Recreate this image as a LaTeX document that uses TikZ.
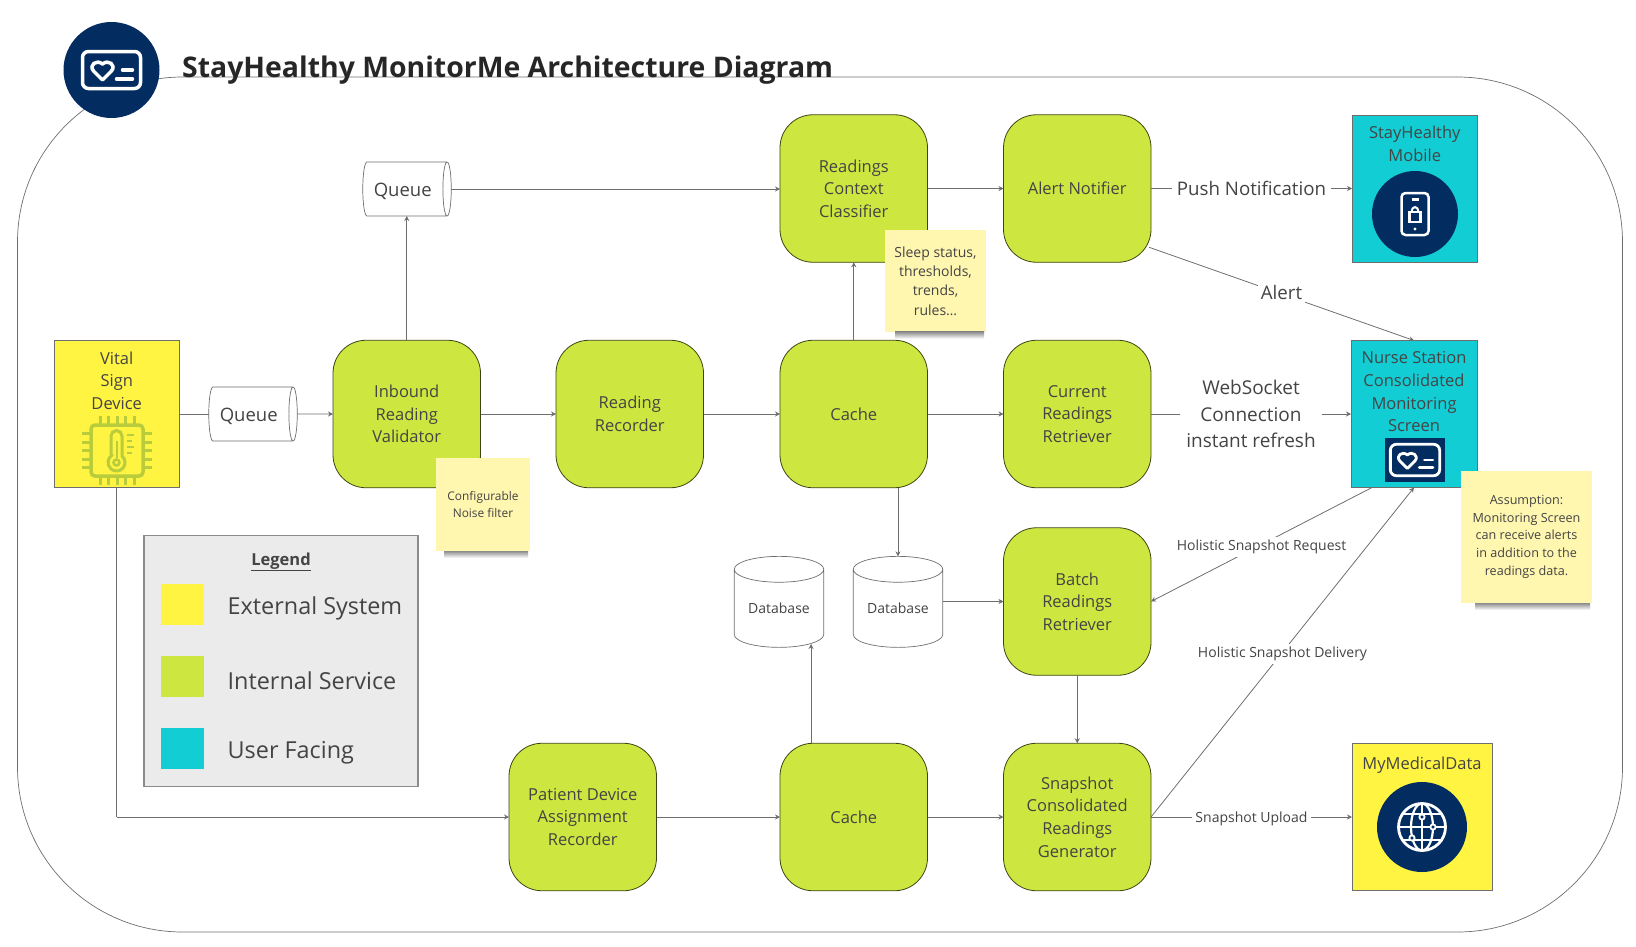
\documentclass[tikz,border=0pt]{standalone}
\usepackage{fontspec}
\setmainfont{Open Sans}
\usepackage{xcolor}
\usepackage{tikz}
\usetikzlibrary{
	arrows.meta,
	calc,
	positioning,
	shapes.geometric,
	}
\definecolor{svcgreen}{HTML}{CEE740}
\definecolor{extyellow}{HTML}{FFF441}
\definecolor{usercyan}{HTML}{12CDD4}
\definecolor{navy}{HTML}{032D60}
\definecolor{notepaper}{HTML}{FFF6B0}
\definecolor{legendgrey}{HTML}{EBEBEB}
\definecolor{chipgreen}{HTML}{B8CC3C}
\definecolor{ink}{HTML}{444444}
\definecolor{wire}{HTML}{6E6E6E}
\tikzset{
	boxfont/.style={font=\fontsize{16.5}{22.6}\selectfont, text=ink, align=center},
	service/.style={boxfont, draw=black!70!svcgreen, fill=svcgreen, line width=.8pt, rounded corners=33pt, minimum size=147.5pt, inner sep=0pt, outer sep=0pt},
	sysbox/.style={draw=wire, line width=1pt, minimum height=147pt, inner sep=0pt, outer sep=0pt},
	boxtext/.style={boxfont, inner sep=0pt},
	queuebox/.style={font=\fontsize{18.5}{22}\selectfont, text=ink, draw=wire, fill=white, line width=.7pt, cylinder, shape aspect=.39, minimum height=88.5pt, minimum width=54pt, text height=18pt, text depth=3.5pt, inner sep=0pt, outer sep=0pt},
	dbbox/.style={boxfont, font=\fontsize{14}{18}\selectfont, draw=wire, fill=white, line width=.7pt, cylinder, shape border rotate=90, shape aspect=.42, minimum height=91pt, minimum width=89.5pt, inner sep=0pt, outer sep=0pt},
	notebox/.style={boxfont, fill=notepaper, inner sep=0pt, outer sep=0pt},
	noteshadow/.style={top color=black!45, bottom color=white, draw=none},
	link/.style={draw=wire, line width=.8pt},
	flow/.style={link, -{Stealth[length=5pt,width=5pt]}},
	wirelabel/.style={midway, fill=white, text=ink, align=center, inner sep=5pt},
	smalllabel/.style={wirelabel, font=\fontsize{14}{18}\selectfont, inner sep=3pt, yshift=-2pt},
	swatch/.style={minimum width=43pt, minimum height=41pt, inner sep=0pt},
	legendtext/.style={font=\fontsize{23.4}{28}\selectfont, text=ink, inner sep=0pt, anchor=base west},
	pics/heartcard/.style={code={
		\draw[white, line width=#1, rounded corners=6pt] (-29,-18.5) rectangle (29,18.5);
		\draw[white, line width=#1, line join=round] (-9,10) -- (-18,1) .. controls (-23,-5) and (-15,-11) .. (-9,-6) .. controls (-3,-11) and (5,-5) .. (0,1) -- cycle;
		\draw[white, line width=#1, line cap=round] (11,0) -- (21,0);
		\draw[white, line width=#1, line cap=round] (5,9) -- (21,9);
	}},
}
\begin{document}
\begin{tikzpicture}[x=1pt, y=-1pt, node distance=76pt]
		\useasboundingbox (0,0) rectangle (1636,946);
		\node[draw=wire, line width=.7pt, rounded corners=165pt, minimum width=1605pt, minimum height=855pt, outer sep=0pt] (frame) at (820,504.5) {};
		\node[circle, fill=navy, minimum size=96pt, inner sep=0pt] (logo) at (111.5,70) {};
		\pic[scale=1] at (logo) {heartcard=3.5pt};
		\node[anchor=base west, font=\fontsize{28.4}{32}\selectfont\bfseries, text=black!85, inner sep=0pt] (title) at (182,77) {StayHealthy MonitorMe Architecture Diagram};

		% main row
		\node[sysbox, fill=extyellow, minimum width=125.5pt] (vital) at (116.75,414) {};
		\node[boxtext, below=11pt of vital.north] (vitaltext) {Vital\\Sign\\Device};
		\node[queuebox] (queuea) at (250.75,414) {Queue\kern4pt};
		\node[service] (inbound) at (406.75,414) {Inbound\\Reading\\Validator};
		\node[service, right=75.5pt of inbound] (recorder) {Reading\\Recorder};
		\node[service, right=76.5pt of recorder] (cachea) {Cache};
		\node[service, right=of cachea] (current) {Current\\Readings\\Retriever};
		\node[service, above=78pt of cachea] (context) {Readings\\Context\\Classifier};
		\node[service, right=of context] (alert) {Alert Notifier};
		\node[queuebox] (queueb) at (404.75,189) {Queue\kern4pt};
		\node[service, below=40pt of current] (batch) {Batch\\Readings\\Retriever};
		\node[service, below=68pt of batch] (snapshot) {Snapshot\\Consolidated\\Readings\\Generator};
		\node[service, left=of snapshot] (cacheb) {Cache};
		\node[service, left=123.5pt of cacheb] (patient) {Patient Device\\Assignment\\Recorder};
		\node[dbbox] (dbraw) at (779,608.5) {Database};
		\node[dbbox] (dbrec) at (898,608.5) {Database};
		\coordinate (dbrawin) at (811,644);

		% user side
		\node[sysbox, fill=usercyan, minimum width=125.5pt] (mobile) at (1414.75,188.5) {};
		\node[boxtext, below=11pt of mobile.north] (mobiletext) {StayHealthy\\Mobile};
		\node[sysbox, fill=usercyan, minimum width=126pt] (nurse) at (1414,414) {};
		\node[boxtext, below=11pt of nurse.north] (nursetext) {Nurse Station\\Consolidated\\Monitoring\\Screen};
		\node[sysbox, fill=extyellow, minimum width=140pt] (medical) at (1422,817) {};
		\node[boxtext, below=13pt of medical.north] (medicaltext) {MyMedicalData};

		% connectors
		\draw[link] (vital.east) -- (queuea.west);
		\draw[flow] (queuea.east) -- (inbound.west);
		\draw[flow] (inbound.north) -- (inbound.north |- queueb.south);
		\draw[flow] (queueb.east) -- (queueb.east -| context.west);
		\draw[flow] (inbound.east) -- (recorder.west);
		\draw[flow] (recorder.east) -- (cachea.west);
		\draw[flow] (cachea.east) -- (current.west);
		\draw[flow] (cachea.north) -- (context.south);
		\draw[flow] (context.east) -- (alert.west);
		\draw[flow] (alert.east) -- node[wirelabel, font=\fontsize{18.7}{24}\selectfont] (lblpush) {Push Notification} (alert.east -| mobile.west);
		\draw[flow] ([xshift=-2pt, yshift=15pt]alert.south east) -- node[wirelabel, font=\fontsize{18.7}{24}\selectfont, inner sep=3pt, yshift=1pt] (lblalert) {Alert} (nurse.north);
		\draw[flow] (current.east) -- node[wirelabel, font=\fontsize{19}{26.6}\selectfont, inner sep=6pt] (lblsocket) {WebSocket\\Connection\\instant refresh} (current.east -| nurse.west);
		\draw[flow] (dbrec.north |- cachea.south) -- (dbrec.north);
		\draw[flow] (batch.west -| dbrec.east) -- (batch.west);
		\draw[flow] (batch.south) -- (snapshot.north);
		\draw[flow] ([xshift=-42pt]nurse.south) -- node[smalllabel] (lblrequest) {Holistic Snapshot Request} (batch.east);
		\draw[flow] (snapshot.east) -- node[smalllabel] (lbldelivery) {Holistic Snapshot Delivery} (nurse.south);
		\draw[flow] (snapshot.east) -- node[smalllabel] (lblupload) {Snapshot Upload} (medical.west);
		\draw[link] (vital.south) -- (vital.south |- patient.west);
		\draw[flow] (vital.south |- patient.west) -- (patient.west);
		\draw[flow] (patient.east) -- (cacheb.west);
		\draw[flow] (cacheb.east) -- (snapshot.west);
		\draw[flow] (dbrawin |- cacheb.north) -- (dbrawin);

		% icons
		\draw[chipgreen, line width=3.5pt, rounded corners=4pt] (91,425) rectangle (143,476);
		\foreach \i in {-17,-8.5,0,8.5,17} {
			\draw[chipgreen, line width=3pt] (117+\i,416) -- (117+\i,425);
			\draw[chipgreen, line width=3pt] (117+\i,476) -- (117+\i,485);
			\draw[chipgreen, line width=3pt] (82,450.5+\i) -- (91,450.5+\i);
			\draw[chipgreen, line width=3pt] (143,450.5+\i) -- (152,450.5+\i);
		}
		\draw[chipgreen, line width=3pt] (111,456) -- (111,436) arc[start angle=180, end angle=360, radius=5.5] -- (122,456) arc[start angle=-50, end angle=230, radius=8.5] -- cycle;
		\draw[chipgreen, line width=2pt] (116.5,441) -- (116.5,458);
		\draw[chipgreen, line width=2.5pt] (116.5,462.5) circle[radius=3];
		\foreach \tick/\len in {435/7,441/5,447/7,453/5} {
			\draw[chipgreen, line width=2.5pt] (127,\tick) -- (127+\len,\tick);
		}
		\node[circle, fill=navy, minimum size=86pt, inner sep=0pt] (mobilelogo) at (1415,214) {};
		\draw[white, line width=2.5pt, rounded corners=4pt] (1401.5,193) rectangle (1428.5,235);
		\draw[white, line width=2.5pt] (1411.5,199.5) -- (1418.5,199.5);
		\fill[white] (1415,229) circle[radius=1.6];
		\draw[white, line width=2.2pt] (1409.5,212) rectangle (1420.5,222);
		\draw[white, line width=2pt] (1411.5,212) arc[start angle=180, end angle=360, x radius=3.5, y radius=5];
		\node[fill=navy, minimum width=60pt, minimum height=44pt, inner sep=0pt] (nurselogo) at (1415,460) {};
		\pic[scale=.85] at (nurselogo) {heartcard=2.8pt};
		\node[circle, fill=navy, minimum size=90pt, inner sep=0pt] (medicallogo) at (1422,827) {};
		\draw[white, line width=2.8pt] (1422,827) circle[radius=23.5];
		\draw[white, line width=2.2pt] (1422,827) ellipse[x radius=11, y radius=23.5];
		\draw[white, line width=2.2pt] (1422,803.5) -- (1422,850.5);
		\draw[white, line width=2.2pt] (1398.5,827) -- (1445.5,827);
		\draw[white, line width=2.2pt] (1403,814) -- (1441,814);
		\draw[white, line width=2.2pt] (1403,840) -- (1441,840);
		\foreach \dx/\dy in {0/-10,11/0,-10/11} {
			\draw[white, fill=navy, line width=1.8pt] (1422+\dx,827+\dy) circle[radius=2.6];
		}

		% legend
		\node[draw=wire!80, line width=1.2pt, fill=legendgrey, minimum width=274pt, minimum height=251pt] (legend) at (281,661) {};
		\node[anchor=base, font=\fontsize{16.5}{20}\selectfont\bfseries, text=ink, inner sep=0pt] (legendtitle) at (281,565) {\underline{Legend}};
		\node[swatch, fill=extyellow] (swatchext) at (182.5,604) {};
		\node[swatch, fill=svcgreen] (swatchsvc) at (182.5,676.5) {};
		\node[swatch, fill=usercyan] (swatchuser) at (182.5,748.5) {};
		\node[legendtext] (textext) at (227.5,614.7) {External System};
		\node[legendtext] (textsvc) at (227.5,689.7) {Internal Service};
		\node[legendtext] (textuser) at (227.5,758.7) {User Facing};

		% sticky notes
		\node[notebox, font=\fontsize{14}{19.3}\selectfont, minimum width=101pt, minimum height=101.5pt] (notecontext) at (935.5,281) {Sleep status,\\thresholds,\\trends,\\rules\ldots};
		\shade[noteshadow] ([xshift=10pt]notecontext.south west) rectangle ([xshift=-2pt, yshift=-7pt]notecontext.south east);
		\node[notebox, font=\fontsize{11.9}{16.8}\selectfont, minimum width=94pt, minimum height=93pt] (noteconfig) at (483,504.5) {Configurable\\Noise filter};
		\shade[noteshadow] ([xshift=8pt]noteconfig.south west) rectangle ([xshift=-2pt, yshift=-7pt]noteconfig.south east);
		\node[notebox, font=\fontsize{12.6}{17.6}\selectfont, minimum width=131pt, minimum height=132.5pt] (noteassume) at (1526.5,536.75) {Assumption:\\Monitoring Screen\\can receive alerts\\in addition to the\\readings data.};
		\shade[noteshadow] ([xshift=14pt]noteassume.south west) rectangle ([xshift=-2pt, yshift=-7pt]noteassume.south east);
	\end{tikzpicture}
\end{document}
